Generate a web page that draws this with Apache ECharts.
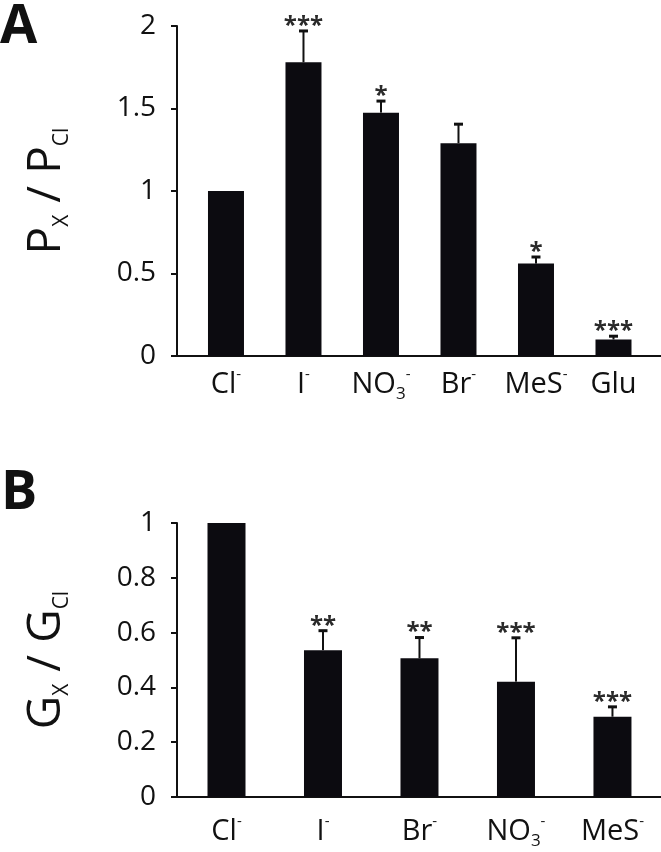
<!DOCTYPE html>
<html>
<head>
<meta charset="utf-8">
<script src="https://cdn.jsdelivr.net/npm/echarts@6/dist/echarts.min.js"></script>
<style>
  html, body { margin: 0; padding: 0; background: #fff; }
  #chart { width: 661px; height: 852px; }
</style>
</head>
<body>
<div id="chart"></div>
<script>
// Panel A: relative permeability
const categoriesA = ["Cl-", "I-", "NO3-", "Br-", "MeS-", "Glu"];
const meanA = [1.0, 1.78, 1.475, 1.29, 0.56, 0.10];
const errA = [0, 0.19, 0.07, 0.115, 0.04, 0.02];
const starsA = ["", "***", "*", "", "*", "***"];
const yTicksA = [0, 0.5, 1, 1.5, 2];

// Panel B: relative conductance
const categoriesB = ["Cl-", "I-", "Br-", "NO3-", "MeS-"];
const meanB = [1.0, 0.536, 0.506, 0.421, 0.293];
const errB = [0, 0.071, 0.076, 0.16, 0.036];
const starsB = ["", "**", "**", "***", "***"];
const yTicksB = [0, 0.2, 0.4, 0.6, 0.8, 1];

const FONT = "Open Sans";
const INK = "#111";
const BAR = "#0c0b10";

// x ranges so that bars sit where the original plot puts them
const xRangeA = [-0.632, 5.613];
const xRangeB = [-0.513, 4.503];

// "NO3-" -> NO + subscript 3 + superscript minus
function ionLabel(cat) {
  const m = cat.match(/^([A-Za-z]+)(\d*)(-?)$/);
  let s = "{n|" + m[1] + "}";
  if (m[2]) s += "{sub|" + m[2] + "}";
  if (m[3]) s += "{sup|-}";
  return s;
}

const ionRich = {
  n: { fontSize: 29, fontFamily: FONT, color: INK, lineHeight: 36 },
  sup: { fontSize: 15, fontFamily: FONT, color: INK, lineHeight: 12, verticalAlign: "top" },
  sub: { fontSize: 17, fontFamily: FONT, color: INK, lineHeight: 10, verticalAlign: "bottom" }
};

const nameRich = {
  m: { fontSize: 46, fontFamily: FONT, color: INK, lineHeight: 52 },
  s: { fontSize: 21, fontFamily: FONT, color: INK, lineHeight: 18, verticalAlign: "bottom" }
};

function errorBars(stars) {
  return function (params, api) {
    const x = api.value(0), m = api.value(1), e = api.value(2);
    const base = api.coord([x, m]);
    const top = api.coord([x, m + e]);
    const children = [];
    if (e > 0) {
      children.push({ type: "line", shape: { x1: base[0], y1: base[1], x2: top[0], y2: top[1] },
        style: { stroke: "#111", lineWidth: 2 } });
      children.push({ type: "line", shape: { x1: top[0] - 4.5, y1: top[1], x2: top[0] + 4.5, y2: top[1] },
        style: { stroke: "#111", lineWidth: 3 } });
    }
    const st = stars[params.dataIndex];
    if (st) {
      children.push({ type: "text", x: top[0], y: top[1] + 7,
        style: { text: st, fontSize: 24, fontWeight: "bold", fontFamily: FONT, fill: "#2a2a2a",
          align: "center", verticalAlign: "bottom", textAlign: "center", textVerticalAlign: "bottom" } });
    }
    return { type: "group", children: children };
  };
}

// vertical axis line drawn as a markLine at the left end of the x range
function axisMarkLine(xr, ticks) {
  return {
    silent: true, symbol: "none", label: { show: false },
    lineStyle: { color: "#111", width: 2, type: "solid" },
    data: [[{ coord: [xr[0], ticks[0]] }, { coord: [xr[0], ticks[ticks.length - 1]] }]]
  };
}

function xAxisFor(cats, xr, margin, gridIndex) {
  return {
    type: "value", gridIndex: gridIndex, min: xr[0], max: xr[1],
    axisLine: { show: true, onZero: false, lineStyle: { color: INK, width: 2 } },
    axisTick: { show: false },
    splitLine: { show: false },
    axisLabel: {
      customValues: cats.map((c, i) => i),
      margin: margin,
      formatter: (v) => ionLabel(cats[Math.round(v)]),
      rich: ionRich
    }
  };
}

function yAxisFor(ticks, name, gap, gridIndex) {
  return {
    type: "value", gridIndex: gridIndex,
    min: ticks[0], max: ticks[ticks.length - 1], interval: ticks[1] - ticks[0],
    name: name, nameLocation: "middle", nameGap: gap, nameMoveOverlap: false,
    nameTextStyle: { rich: nameRich },
    axisLine: { show: true, onZero: false, lineStyle: { color: INK, width: 2 } },
    axisTick: { show: true, length: 6, lineStyle: { color: INK, width: 2 } },
    splitLine: { show: false },
    axisLabel: { fontSize: 28, fontFamily: FONT, color: INK, margin: 21 }
  };
}

const chart = echarts.init(document.getElementById("chart"));
chart.setOption({
  animation: false,
  backgroundColor: "#fff",
  grid: [
    { left: 177, right: 0, top: 26, height: 330 },
    { left: 177, right: 0, top: 523, height: 274 }
  ],
  xAxis: [
    xAxisFor(categoriesA, xRangeA, 11, 0),
    xAxisFor(categoriesB, xRangeB, 17, 1)
  ],
  yAxis: [
    yAxisFor(yTicksA, "{m|P}{s|X}{m| / P}{s|Cl}", 104, 0),
    yAxisFor(yTicksB, "{m|G}{s|X}{m| / G}{s|Cl}", 104, 1)
  ],
  graphic: [
    { type: "text", left: 0, top: 1, style: { text: "A", fontSize: 54, fontWeight: "bold", fontFamily: FONT, fill: "#111" } },
    { type: "text", left: 1, top: 467, style: { text: "B", fontSize: 54, fontWeight: "bold", fontFamily: FONT, fill: "#111" } }
  ],
  series: [
    { type: "bar", xAxisIndex: 0, yAxisIndex: 0, barWidth: 36,
      data: meanA.map((v, i) => [i, v]), itemStyle: { color: BAR },
      markLine: axisMarkLine(xRangeA, yTicksA) },
    { type: "custom", xAxisIndex: 0, yAxisIndex: 0, renderItem: errorBars(starsA),
      data: meanA.map((v, i) => [i, v, errA[i]]) },
    { type: "bar", xAxisIndex: 1, yAxisIndex: 1, barWidth: 38,
      data: meanB.map((v, i) => [i, v]), itemStyle: { color: BAR },
      markLine: axisMarkLine(xRangeB, yTicksB) },
    { type: "custom", xAxisIndex: 1, yAxisIndex: 1, renderItem: errorBars(starsB),
      data: meanB.map((v, i) => [i, v, errB[i]]) }
  ]
});
</script>
</body>
</html>
